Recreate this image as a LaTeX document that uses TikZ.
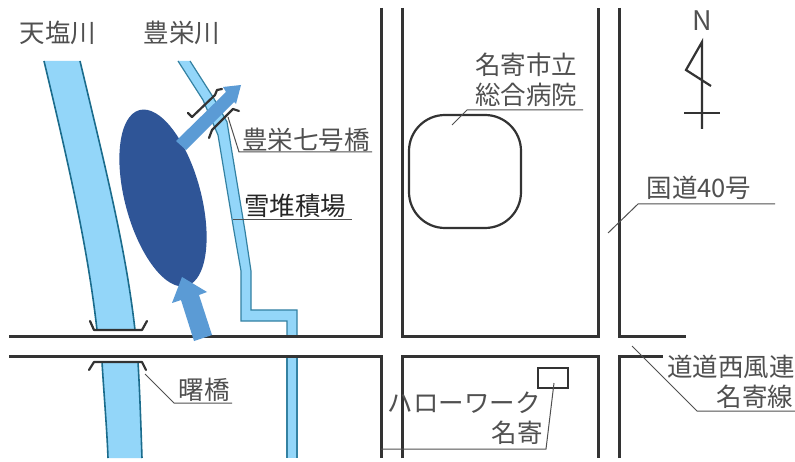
\documentclass[tikz,border=0pt]{standalone}
\usepackage{fontspec}
\setmainfont{Noto Sans CJK JP}
\definecolor{rivfill}{HTML}{93D6F9}
\definecolor{rivedge}{HTML}{1B6C8C}
\definecolor{blobcol}{HTML}{2F5597}
\definecolor{arrowcol}{HTML}{5B9BD5}
\definecolor{roadcol}{HTML}{333333}
\definecolor{labelcol}{HTML}{505050}
\tikzset{
  road/.style={draw=roadcol,line width=3pt,line cap=butt,line join=miter},
  bridgeline/.style={draw=roadcol,line width=2.2pt,line join=round,line cap=round},
  leader/.style={draw=labelcol,line width=1pt,line join=miter},
  rivbody/.style={fill=rivfill,draw=none},
  rivline/.style={draw=rivedge,line width=1.6pt},
  thinriv/.style={draw=rivedge!80!rivfill,line width=1.2pt,line join=miter},
  flow/.style={fill=arrowcol,draw=none},
  lab/.style={text=labelcol,inner sep=0pt,font=\fontsize{25.5}{27}\selectfont}
}
\begin{document}
\begin{tikzpicture}[x=1pt,y=-1pt]
\useasboundingbox (0,0) rectangle (795,462);
\fill[white] (0,0) rectangle (795,462);
% Tenshio river
\fill[rivbody] (44,61) .. controls (70,170) and (88,250) .. (97,330) -- (135,330) .. controls (126,250) and (106,170) .. (80,61) -- cycle;
\draw[rivline] (44,61) .. controls (70,170) and (88,250) .. (97,330);
\draw[rivline] (80,61) .. controls (106,170) and (126,250) .. (135,330);
\fill[rivbody] (102,362) .. controls (104,395) and (107,430) .. (108,458) -- (142,458) .. controls (141,430) and (140,395) .. (138,362) -- cycle;
\draw[rivline] (102,362) .. controls (104,395) and (107,430) .. (108,458);
\draw[rivline] (138,362) .. controls (140,395) and (141,430) .. (142,458);
% Houei river
\fill[rivbody] (178,61) -- (203,100) -- (218,135) -- (234,231) -- (241,271) -- (241,321) -- (287,321) -- (287,336) -- (297,336) -- (297,310) -- (251,310) -- (251,271) -- (245,231) -- (227,122) -- (213,97) -- (190,61) -- cycle;
\draw[thinriv] (178,61) -- (203,100) -- (218,135) -- (234,231) -- (241,271) -- (241,321) -- (287,321) -- (287,336);
\draw[thinriv] (190,61) -- (213,97) -- (227,122) -- (245,231) -- (251,271) -- (251,310) -- (297,310) -- (297,336);
\fill[rivbody] (287,356) rectangle (297,458);
\draw[thinriv] (287,356) -- (287,458);
\draw[thinriv] (297,356) -- (297,458);
% Roads
\draw[road] (381,8) -- (381,336) -- (9,336);
\draw[road] (9,356) -- (381,356) -- (381,458);
\draw[road] (402,8) -- (402,336) -- (598,336) -- (598,8);
\draw[road] (402,458) -- (402,356) -- (598,356) -- (598,458);
\draw[road] (619,8) -- (619,336) -- (686,336);
\draw[road] (619,458) -- (619,356) -- (663,356);
% Snow area
\fill[blobcol,rotate around={15:(163,198)}] (163,198) ellipse [x radius=38,y radius=91];
% Bridges
\draw[bridgeline] (188,113) -- (192,117) -- (215,95) -- (217,90) -- (222,89);
\draw[bridgeline] (209,138) -- (212,130) -- (233,109) -- (239,111);
\draw[bridgeline] (90,321) -- (94,330) -- (142,330) -- (147,321);
\draw[bridgeline] (89,370) -- (94,362) -- (142,362) -- (146,370);
% Flow arrows
\fill[flow] (176,141) -- (226,92) -- (223,87) -- (241,85) -- (236,104) -- (234,102) -- (186,150) -- cycle;
\fill[flow] (194,341) -- (181,300) -- (172,303) -- (182,277) -- (207,292) -- (199,295) -- (212,335) -- cycle;
% Hospital and Hello Work
\draw[draw=roadcol,line width=2.2pt,rounded corners=36pt] (409,115) rectangle (521,228);
\node[draw=roadcol,line width=2.4pt,minimum width=30pt,minimum height=20pt,inner sep=0pt] (hw) at (553,378) {};
% North mark
\node[text=labelcol,inner sep=0pt,font=\fontsize{27}{28}\selectfont] (north) at (702,21) {N};
\coordinate (ntop) at (702,42);
\coordinate (nbot) at (702,129);
\draw[draw=roadcol,line width=2.2pt,line join=miter] (nbot) -- (ntop) -- (686,70) -- (711,86);
\draw[draw=roadcol,line width=2.2pt] (684,113) -- (720,113);
% Labels
\node[lab] (t1) at (58,33) {天塩川};
\node[lab] (t2) at (182,33) {豊栄川};
\node[lab] (t3) at (306,140) {豊栄七号橋};
\node[lab,font=\fontsize{25.5}{27}\selectfont,text=black!85] (t4) at (295,206) {雪堆積場};
\node[lab] (t5) at (204,390) {曙橋};
\node[lab] (t6) at (526,65) {名寄市立};
\node[lab] (t7) at (526,95) {総合病院};
\node[lab] (t8) at (699,188) {国道40号};
\node[lab] (t9) at (731,367) {道道西風連};
\node[lab] (t10) at (755,397) {名寄線};
\node[lab] (t11) at (464,403) {ハローワーク};
\node[lab] (t12) at (517,433) {名寄};
% Leaders
\coordinate (a3) at (228,117); \coordinate (b3) at (239,152); \coordinate (c3) at (372,152);
\draw[leader] (a3) -- (b3) -- (c3);
\coordinate (a4) at (233,220); \coordinate (c4) at (352,220);
\draw[leader] (a4) -- (c4);
\coordinate (a5) at (145,374); \coordinate (b5) at (174,403); \coordinate (c5) at (232,403);
\draw[leader] (a5) -- (b5) -- (c5);
\coordinate (a6) at (452,125); \coordinate (b6) at (467,110); \coordinate (c6) at (583,110);
\draw[leader] (a6) -- (b6) -- (c6);
\coordinate (a8) at (608,233); \coordinate (b8) at (638,204); \coordinate (c8) at (775,204);
\draw[leader] (a8) -- (b8) -- (c8);
\coordinate (a9) at (632,346); \coordinate (b9) at (697,411); \coordinate (c9) at (795,411);
\draw[leader] (a9) -- (b9) -- (c9);
\coordinate (a11) at (554,383); \coordinate (b11) at (546,449); \coordinate (c11) at (381,449);
\draw[leader] (a11) -- (b11) -- (c11);
\end{tikzpicture}
\end{document}
